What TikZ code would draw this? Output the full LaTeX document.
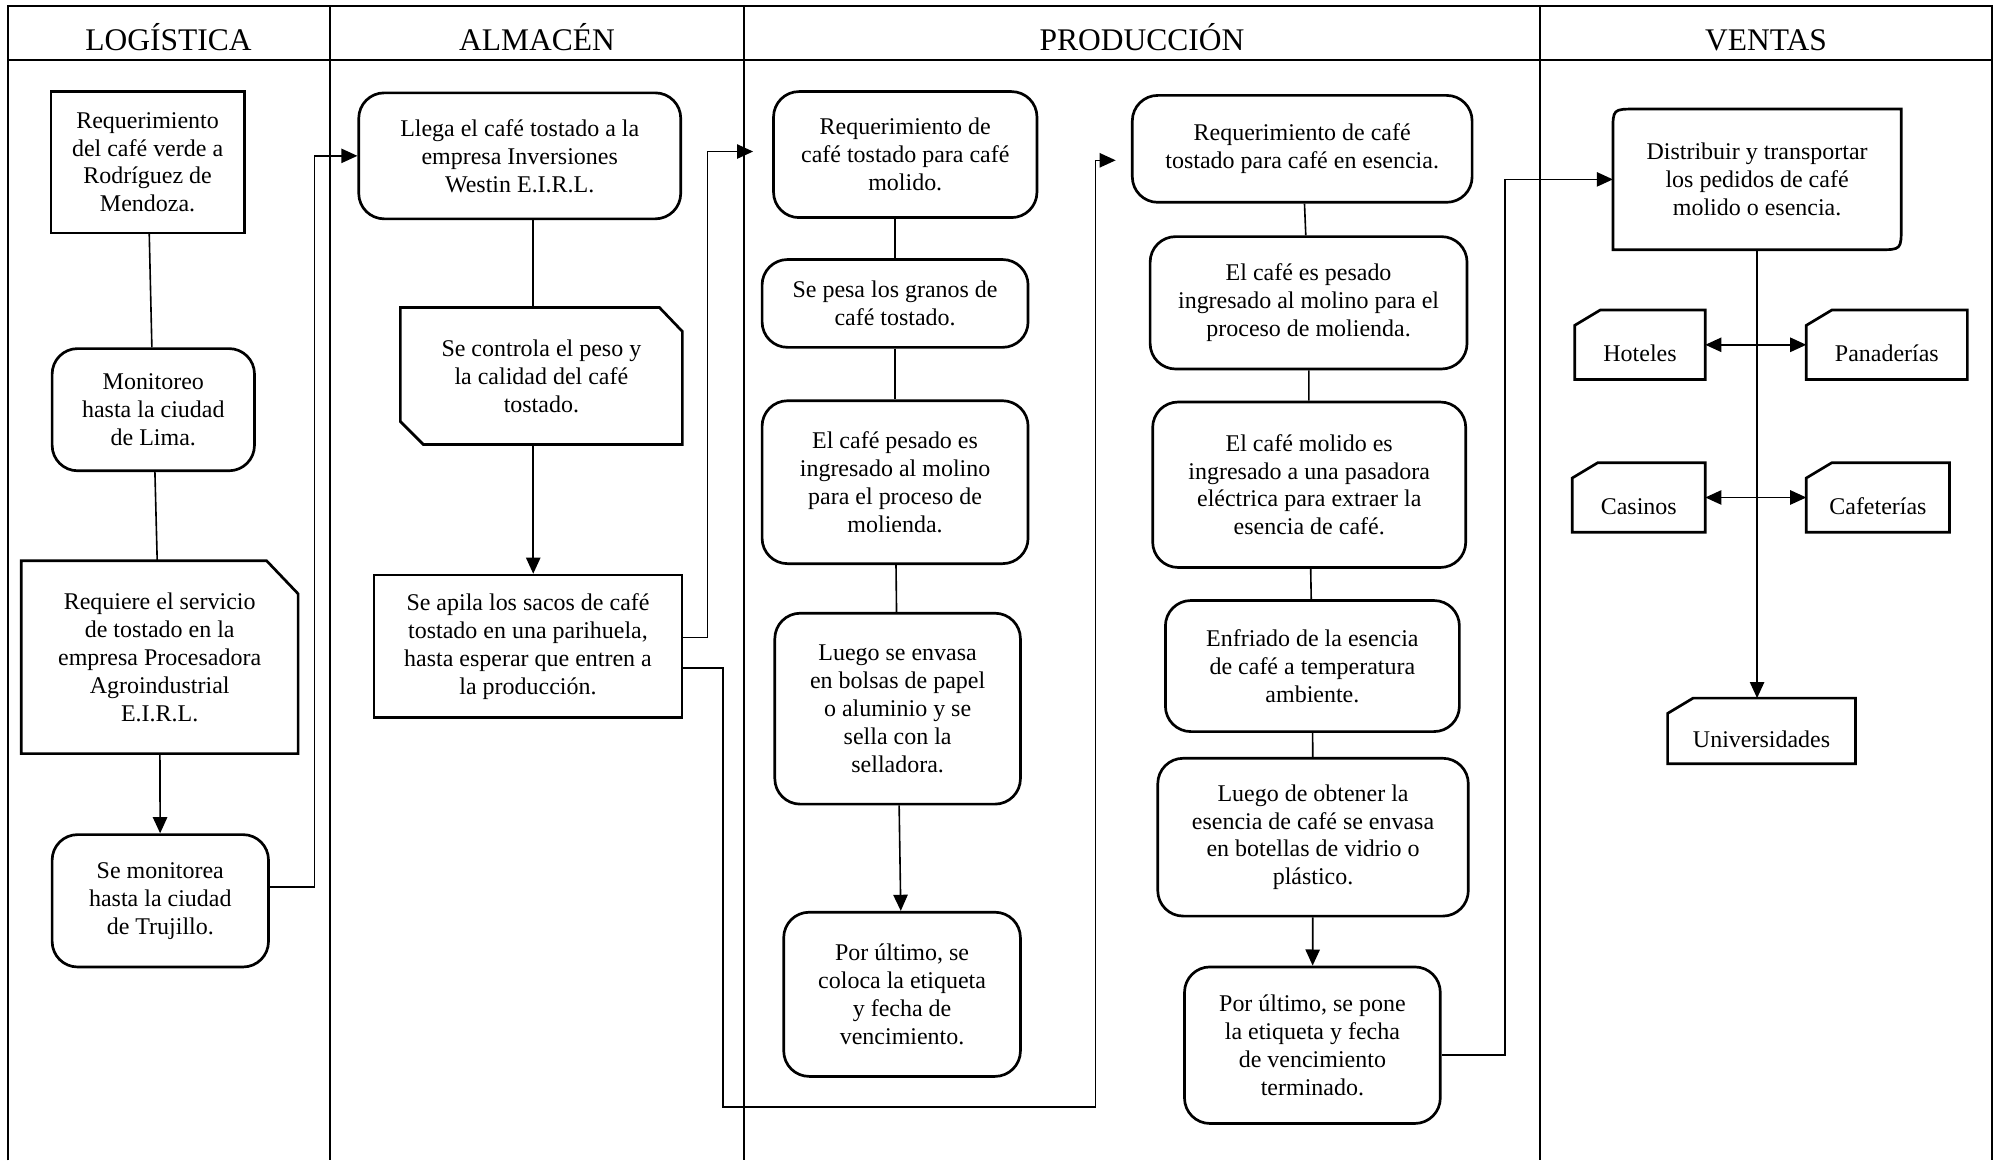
\documentclass[tikz,border=0pt]{standalone}
\usepackage{fontspec}
\setmainfont{Liberation Serif}
\usetikzlibrary{arrows.meta}

\tikzset{
    txt/.style={font=\fontsize{13.4}{15.6}\selectfont, align=center, inner sep=1pt},
    proc/.style={txt, draw, line width=1.5pt, rounded corners=0.5cm},
    doc/.style={txt, draw, line width=1.5pt},
    card/.style={txt},
    client/.style={txt, text height=19pt, text depth=0pt},
    outline/.style={line width=1.5pt, line join=miter},
    head/.style={font=\fontsize{17.6}{20}\selectfont, anchor=base},
    lane/.style={line width=1.1pt},
    conn/.style={line width=0.9pt}
}

\begin{document}
\begin{tikzpicture}[x=0.025cm, y=-0.025cm, >={Triangle[length=9pt,width=8pt]}]
        \useasboundingbox (0,0) rectangle (1568,912);

        % Lanes
        \draw[lane] (6,912) -- (6,5) -- (1566,5) -- (1566,912);
        \draw[lane] (6,47) -- (1566,47);
        \draw[lane] (259,5) -- (259,912);
        \draw[lane] (585,5) -- (585,912);
        \draw[lane] (1210,5) -- (1210,912);
        \node[head] (hlog) at (132.5,40) {LOGÍSTICA};
        \node[head] (halm) at (422,40) {ALMACÉN};
        \node[head] (hprod) at (897.5,40) {PRODUCCIÓN};
        \node[head] (hven) at (1388,40) {VENTAS};

        % Nodes
        \node[doc, minimum width=3.8cm, minimum height=2.775cm] (req) at (116,127.5) {Requerimiento\\del café verde a\\Rodríguez de\\Mendoza.};
        \node[proc, minimum width=3.975cm, minimum height=2.4cm] (lima) at (120.5,322) {Monitoreo\\hasta la ciudad\\de Lima.};
        \node[card, minimum width=5.425cm, minimum height=3.775cm] (tost) at (125.5,516.5) {Requiere el servicio\\de tostado en la\\empresa Procesadora\\Agroindustrial\\E.I.R.L.};
        \node[proc, minimum width=4.25cm, minimum height=2.6cm] (truj) at (126,708) {Se monitorea\\hasta la ciudad\\de Trujillo.};

        \node[proc, minimum width=6.325cm, minimum height=2.475cm] (llega) at (408.5,122.5) {Llega el café tostado a la\\empresa Inversiones\\Westin E.I.R.L.};
        \node[card, minimum width=5.525cm, minimum height=2.675cm] (ctrl) at (425.5,295.5) {Se controla el peso y\\la calidad del café\\tostado.};
        \node[doc, minimum width=6.05cm, minimum height=2.8cm] (apila) at (415,508) {Se apila los sacos de café\\tostado en una parihuela,\\hasta esperar que entren a\\la producción.};

        \node[proc, minimum width=5.175cm, minimum height=2.475cm] (reqm) at (711.5,121.5) {Requerimiento de\\café tostado para café\\molido.};
        \node[proc, minimum width=5.225cm, minimum height=1.725cm] (pesa) at (703.5,238.5) {Se pesa los granos de\\café tostado.};
        \node[proc, minimum width=5.225cm, minimum height=3.2cm] (moli) at (703.5,379) {El café pesado es\\ingresado al molino\\para el proceso de\\molienda.};
        \node[proc, minimum width=4.825cm, minimum height=3.75cm] (env) at (705.5,557) {Luego se envasa\\en bolsas de papel\\o aluminio y se\\sella con la\\selladora.};
        \node[proc, minimum width=4.65cm, minimum height=3.225cm] (etiq) at (709,781.5) {Por último, se\\coloca la etiqueta\\y fecha de\\vencimiento.};

        \node[proc, minimum width=6.675cm, minimum height=2.1cm] (reqe) at (1023.5,117) {Requerimiento de café\\tostado para café en esencia.};
        \node[proc, minimum width=6.225cm, minimum height=2.6cm] (pesae) at (1028.5,238) {El café es pesado\\ingresado al molino para el\\proceso de molienda.};
        \node[proc, minimum width=6.15cm, minimum height=3.25cm] (pasa) at (1029,381) {El café molido es\\ingresado a una pasadora\\eléctrica para extraer la\\esencia de café.};
        \node[proc, minimum width=5.775cm, minimum height=2.575cm] (enfr) at (1031.5,523.5) {Enfriado de la esencia\\de café a temperatura\\ambiente.};
        \node[proc, minimum width=6.1cm, minimum height=3.1cm] (bote) at (1032,658) {Luego de obtener la\\esencia de café se envasa\\en botellas de vidrio o\\plástico.};
        \node[proc, minimum width=5.025cm, minimum height=3.075cm] (etiqe) at (1031.5,821.5) {Por último, se pone\\la etiqueta y fecha\\de vencimiento\\terminado.};

        \node[card, minimum width=5.65cm, minimum height=2.75cm] (dist) at (1381,141) {Distribuir y transportar\\los pedidos de café\\molido o esencia.};
        \node[client, minimum width=2.55cm, minimum height=1.35cm] (hot) at (1289,271) {Hoteles};
        \node[client, minimum width=3.15cm, minimum height=1.35cm] (pan) at (1483,271) {Panaderías};
        \node[client, minimum width=2.6cm, minimum height=1.35cm] (cas) at (1288,391) {Casinos};
        \node[client, minimum width=2.8cm, minimum height=1.35cm] (caf) at (1476,391) {Cafeterías};
        \node[client, minimum width=3.675cm, minimum height=1.275cm] (uni) at (1384.5,574.5) {Universidades};

        % Outlines
        \draw[outline] (tost.south west) -- (tost.north west) -- ([xshift=-0.62cm]tost.north east) -- ([yshift=-0.65cm]tost.north east) -- (tost.south east) -- cycle;
        \draw[outline] (ctrl.north west) -- ([xshift=-0.45cm]ctrl.north east) -- ([yshift=-0.47cm]ctrl.north east) -- (ctrl.south east) -- ([xshift=0.45cm]ctrl.south west) -- ([yshift=0.45cm]ctrl.south west) -- cycle;
        \draw[outline] (dist.south west) -- ([yshift=-0.45cm]dist.north west) .. controls (dist.north west) .. ([xshift=0.45cm]dist.north west) -- (dist.north east) -- ([yshift=0.45cm]dist.south east) .. controls (dist.south east) .. ([xshift=-0.45cm]dist.south east) -- cycle;
        \draw[outline] ([yshift=-0.3cm]hot.north west) -- ([xshift=0.5cm]hot.north west) -- (hot.north east) -- (hot.south east) -- (hot.south west) -- cycle;
        \draw[outline] ([yshift=-0.3cm]pan.north west) -- ([xshift=0.5cm]pan.north west) -- (pan.north east) -- (pan.south east) -- (pan.south west) -- cycle;
        \draw[outline] ([yshift=-0.3cm]cas.north west) -- ([xshift=0.5cm]cas.north west) -- (cas.north east) -- (cas.south east) -- (cas.south west) -- cycle;
        \draw[outline] ([yshift=-0.3cm]caf.north west) -- ([xshift=0.5cm]caf.north west) -- (caf.north east) -- (caf.south east) -- (caf.south west) -- cycle;
        \draw[outline] ([yshift=-0.3cm]uni.north west) -- ([xshift=0.5cm]uni.north west) -- (uni.north east) -- (uni.south east) -- (uni.south west) -- cycle;

        % Edges
        \draw[conn] (req) -- (lima);
        \draw[conn] (lima) -- (tost);
        \draw[conn, ->] (tost) -- (truj);
        \draw[conn, ->] ([yshift=0.275cm]truj.east) -- ++(35,0) |- (llega.west);
        \draw[conn] ([xshift=-0.16cm]ctrl.north) -- ([xshift=-0.16cm]ctrl.north |- llega.south);
        \draw[conn, ->] ([xshift=-0.16cm]ctrl.south) -- ([xshift=-0.16cm]ctrl.south |- apila.north);
        \draw[conn, ->, shorten >=0.375cm] ([yshift=0.175cm]apila.east) -- ++(19,0) |- ([yshift=0.06cm]reqm.west);
        \draw[conn, ->, shorten >=0.3cm] ([yshift=-0.425cm]apila.east) -- ++(31,0) -- ++(0,345) -- ++(293,0) |- ([yshift=-0.225cm]reqe.west);
        \draw[conn] (reqm.south -| pesa.north) -- (pesa.north);
        \draw[conn] (pesa) -- (moli);
        \draw[conn] (moli) -- (env);
        \draw[conn, ->] (env) -- (etiq);
        \draw[conn] (reqe) -- (pesae);
        \draw[conn] (pesae) -- (pasa);
        \draw[conn] (pasa) -- (enfr);
        \draw[conn] (enfr) -- (bote);
        \draw[conn, ->] (bote) -- (etiqe);
        \draw[conn, ->] ([yshift=-0.19cm]etiqe.east) -- ++(50,0) |- (dist.west);
        \draw[conn, ->] (dist.south) -- (dist.south |- uni.north);
        \draw[conn, <->] (hot) -- (pan);
        \draw[conn, <->] (cas) -- (caf);
    \end{tikzpicture}
\end{document}
